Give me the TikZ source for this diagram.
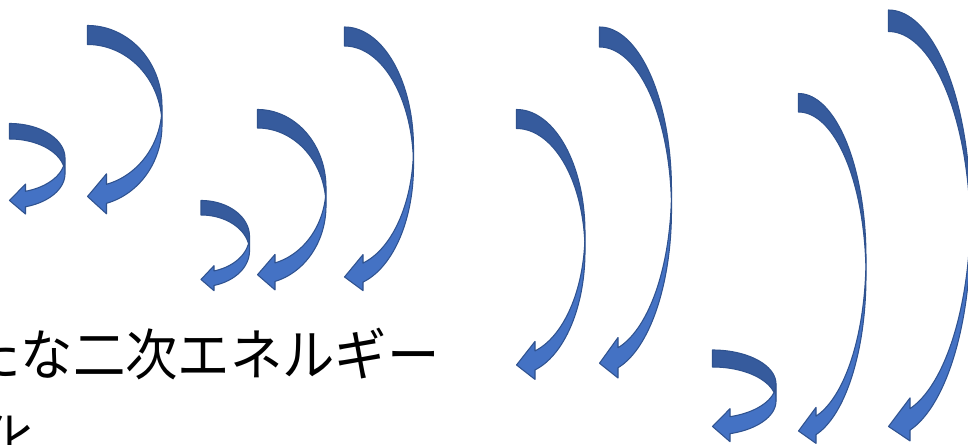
\documentclass[tikz,border=0pt]{standalone}
\usepackage{fontspec}
\newfontfamily\jpfont[FakeStretch=0.94]{Noto Sans CJK JP}
\definecolor{arrLight}{HTML}{4472C4}
\definecolor{arrDark}{HTML}{365B9D}
\definecolor{arrLine}{HTML}{2F528F}
\tikzset{
  arrowfill/.style={fill=arrLight},
  arrowshade/.style={fill=arrDark},
  arrowline/.style={draw=arrLine, line width=0.6pt, line join=round},
  jptext/.style={inner sep=0pt, anchor=base west, font=\jpfont\fontsize{31.7pt}{38pt}\selectfont},
}
% curved-left-arrow shape: left, top, width, height, band thickness, head width, head length
\newcommand\curvedleftarrow[7]{%
 \pgfmathsetmacro\caL{#1}%
 \pgfmathsetmacro\caT{#2}%
 \pgfmathsetmacro\caW{#3}%
 \pgfmathsetmacro\caH{#4}%
 \pgfmathsetmacro\caTh{#5}%
 \pgfmathsetmacro\caAw{#6}%
 \pgfmathsetmacro\caAh{#7}%
 \pgfmathsetmacro\caHR{\caH/2-(\caTh+\caAw)/4}%
 \pgfmathsetmacro\caR{\caL+\caW}%
 \pgfmathsetmacro\caCa{\caT+\caHR}%
 \pgfmathsetmacro\caCb{\caT+\caHR+\caTh}%
 \pgfmathsetmacro\caTa{acos(\caAh/\caW)}%
 \pgfmathsetmacro\caDy{\caHR*sin(\caTa)}%
 \pgfmathsetmacro\caYv{\caCa+\caDy}%
 \pgfmathsetmacro\caYs{\caCb+\caDy}%
 \pgfmathsetmacro\caDh{(\caAw-\caTh)/2}%
 \pgfmathsetmacro\caYiv{\caYv-\caDh}%
 \pgfmathsetmacro\caYe{\caYs+\caDh}%
 \pgfmathsetmacro\caYtip{\caT+\caH-\caAw/2}%
 \pgfmathsetmacro\caX{\caL+\caAh}%
 \pgfmathsetmacro\caTc{-asin(\caTh/(2*\caHR))}%
 \pgfmathsetmacro\caTt{\caT+\caTh}%
 \fill[arrowfill] (\caR,\caCa)
   -- plot[domain=0:\caTa, samples=40] ({\caL+\caW*cos(\x)},{\caCa+\caHR*sin(\x)})
   -- (\caX,\caYiv) -- (\caL,\caYtip) -- (\caX,\caYe) -- (\caX,\caYs)
   -- plot[domain=\caTa:0, samples=40] ({\caL+\caW*cos(\x)},{\caCb+\caHR*sin(\x)})
   -- cycle;
 \fill[arrowshade] (\caL,\caT)
   -- plot[domain=-90:0, samples=40] ({\caL+\caW*cos(\x)},{\caCa+\caHR*sin(\x)})
   -- (\caR,\caCb)
   -- plot[domain=0:-90, samples=40] ({\caL+\caW*cos(\x)},{\caCb+\caHR*sin(\x)})
   -- cycle;
 \draw[arrowline] (\caR,\caCa)
   -- plot[domain=0:\caTa, samples=40] ({\caL+\caW*cos(\x)},{\caCa+\caHR*sin(\x)})
   -- (\caX,\caYiv) -- (\caL,\caYtip) -- (\caX,\caYe) -- (\caX,\caYs)
   -- plot[domain=\caTa:0, samples=40] ({\caL+\caW*cos(\x)},{\caCb+\caHR*sin(\x)})
   -- (\caR,\caCa)
   -- plot[domain=0:-90, samples=40] ({\caL+\caW*cos(\x)},{\caCa+\caHR*sin(\x)})
   -- (\caL,\caTt)
   -- plot[domain=-90:\caTc, samples=40] ({\caL+\caW*cos(\x)},{\caCb+\caHR*sin(\x)});
}
\begin{document}
\begin{tikzpicture}[x=0.02cm, y=-0.02cm]
\useasboundingbox (0,0) rectangle (968,445);
\fill[white] (0,0) rectangle (968,445);
\clip (0,0) rectangle (968,445);
% arrows
\curvedleftarrow{9.5}{123.5}{55.5}{92}{15.5}{30}{16}
\curvedleftarrow{87.5}{25.5}{74.5}{191}{19}{40}{19}
\curvedleftarrow{201}{200.5}{48.5}{91.5}{14.5}{25}{13}
\curvedleftarrow{257.5}{109.5}{68.5}{183}{18.5}{35.5}{17.5}
\curvedleftarrow{344.5}{27}{69}{268}{19}{36}{18.5}
\curvedleftarrow{516.5}{109.5}{68.5}{274.5}{19}{38}{18.5}
\curvedleftarrow{599.5}{27}{72}{356.5}{20}{40.5}{18.5}
\curvedleftarrow{712.5}{350}{63.5}{93}{17}{33}{17.5}
\curvedleftarrow{798.5}{93.5}{67.5}{355.5}{18.5}{36}{17.5}
\curvedleftarrow{888.5}{10}{82}{438}{21.5}{43}{21.5}
% text
\node[jptext] (t1) at (-32,376) {たな二次エネルギー};
\node[jptext] (t2) at (-18,462) {化};
\end{tikzpicture}
\end{document}
